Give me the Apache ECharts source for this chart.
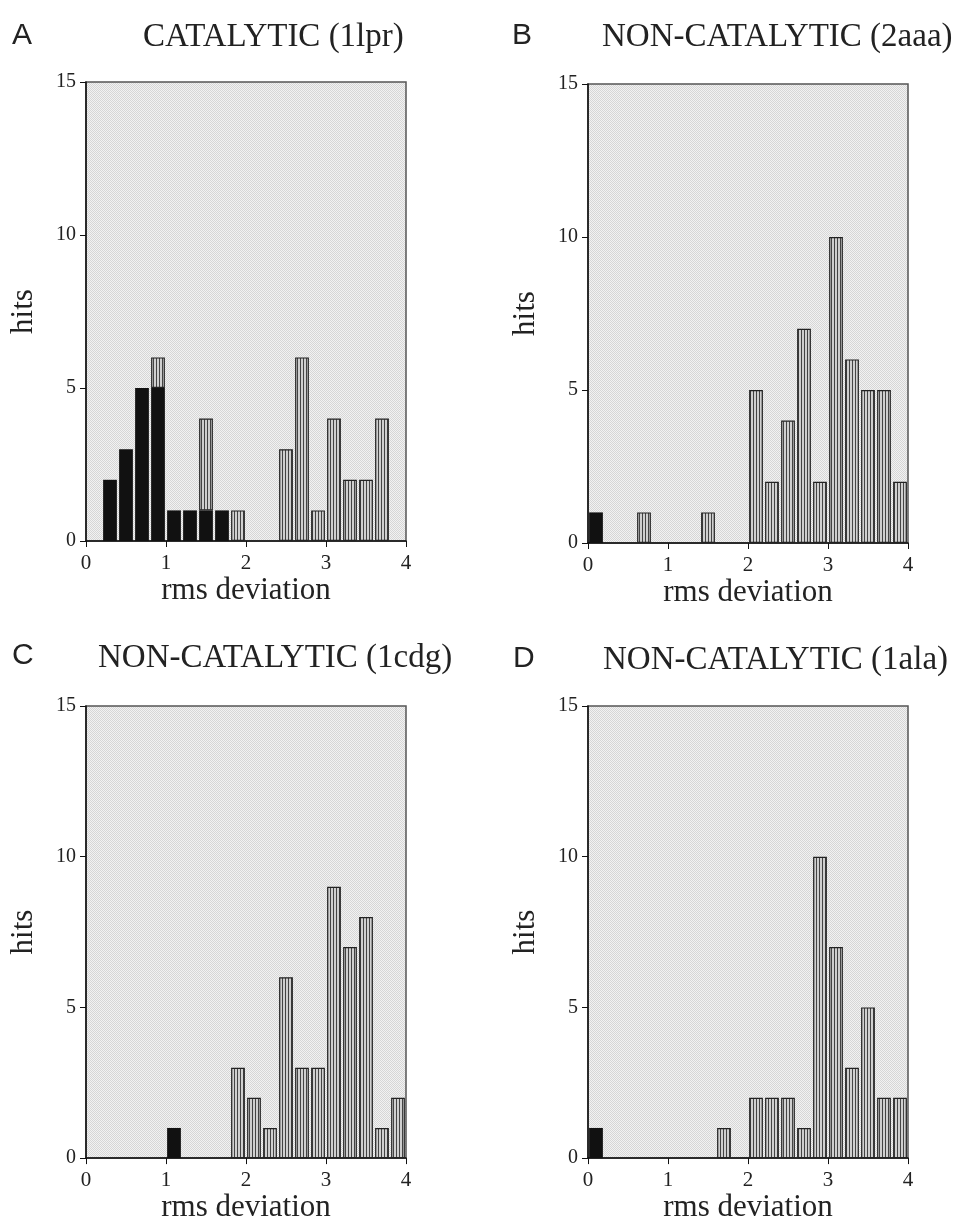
<!DOCTYPE html>
<html>
<head>
<meta charset="utf-8">
<script src="https://cdn.jsdelivr.net/npm/echarts@6/dist/echarts.min.js"></script>
<style>
html,body{margin:0;padding:0;background:#fff;}
#chart{width:956px;height:1224px;}
</style>
</head>
<body>
<div id="chart"></div>
<script>
// ---- data ----
var bins = ['0.0-0.2','0.2-0.4','0.4-0.6','0.6-0.8','0.8-1.0','1.0-1.2','1.2-1.4','1.4-1.6','1.6-1.8','1.8-2.0',
            '2.0-2.2','2.2-2.4','2.4-2.6','2.6-2.8','2.8-3.0','3.0-3.2','3.2-3.4','3.4-3.6','3.6-3.8','3.8-4.0'];
var xTicks = [0, 1, 2, 3, 4];
var yTicks = [0, 5, 10, 15];
var panelLetters = ['A', 'B', 'C', 'D'];
var panelTitles = ['CATALYTIC (1lpr)', 'NON-CATALYTIC (2aaa)', 'NON-CATALYTIC (1cdg)', 'NON-CATALYTIC (1ala)'];

var blackA   = [0,2,3,5,5,1,1,1,1,0,0,0,0,0,0,0,0,0,0,0];
var stripedA = [0,0,0,0,1,0,0,3,0,1,0,0,3,6,1,4,2,2,4,0];
var blackB   = [1,0,0,0,0,0,0,0,0,0,0,0,0,0,0,0,0,0,0,0];
var stripedB = [0,0,0,1,0,0,0,1,0,0,5,2,4,7,2,10,6,5,5,2];
var blackC   = [0,0,0,0,0,1,0,0,0,0,0,0,0,0,0,0,0,0,0,0];
var stripedC = [0,0,0,0,0,0,0,0,0,3,2,1,6,3,3,9,7,8,1,2];
var blackD   = [1,0,0,0,0,0,0,0,0,0,0,0,0,0,0,0,0,0,0,0];
var stripedD = [0,0,0,0,0,0,0,0,1,0,2,2,2,1,10,7,3,5,2,2];

var blackData = [blackA, blackB, blackC, blackD];
var stripedData = [stripedA, stripedB, stripedC, stripedD];

// ---- patterns ----
function makeStripe() {
  var c = document.createElement('canvas');
  c.width = 3; c.height = 4;
  var g = c.getContext('2d');
  g.fillStyle = '#cfcfcf'; g.fillRect(0, 0, 3, 4);
  g.fillStyle = '#444444'; g.fillRect(0, 0, 1, 4);
  return c;
}
function makeStipple() {
  var c = document.createElement('canvas');
  c.width = 2; c.height = 2;
  var g = c.getContext('2d');
  g.fillStyle = '#f2f2f2'; g.fillRect(0, 0, 2, 2);
  g.fillStyle = '#d6d6d6'; g.fillRect(0, 0, 1, 1); g.fillRect(1, 1, 1, 1);
  return c;
}
var stripePattern = {image: makeStripe(), repeat: 'repeat'};
var stipplePattern = {image: makeStipple(), repeat: 'repeat'};

var serif = 'Liberation Serif';
var sans = 'Liberation Sans';

var grids = [
  {left: 86,  top: 82,  width: 320, height: 459},
  {left: 588, top: 84,  width: 320, height: 459},
  {left: 86,  top: 706, width: 320, height: 460},
  {left: 588, top: 706, width: 320, height: 461}
];
var letterPos = [[12, 37], [512, 37], [12, 657], [513, 660]];
var titlePos = [[143, 38], [602, 38], [98, 659], [603, 661]];

var option = {
  animation: false,
  backgroundColor: '#ffffff',
  grid: grids.map(function (g) {
    return {left: g.left, top: g.top, width: g.width, height: g.height,
            show: true, backgroundColor: stipplePattern, borderColor: '#555', borderWidth: 1.5, containLabel: false};
  }),
  xAxis: [],
  yAxis: [],
  series: [],
  graphic: []
};

for (var i = 0; i < 4; i++) {
  // hidden category axis for bins
  option.xAxis.push({
    type: 'category', gridIndex: i, data: bins, show: false, boundaryGap: true
  });
  // visible value axis for labels
  option.xAxis.push({
    type: 'value', gridIndex: i, min: xTicks[0], max: xTicks[xTicks.length - 1], interval: 1,
    position: 'bottom',
    axisLine: {show: true, onZero: false, lineStyle: {color: '#111', width: 1.5}},
    axisTick: {show: true, inside: false, length: 6, lineStyle: {color: '#111', width: 1}},
    axisLabel: {show: true, margin: 12, fontFamily: serif, fontSize: 21, color: '#222'},
    splitLine: {show: false},
    name: 'rms deviation', nameLocation: 'middle', nameGap: 27,
    nameTextStyle: {fontFamily: serif, fontSize: 31, color: '#222', verticalAlign: 'top'}
  });
  option.yAxis.push({
    type: 'value', gridIndex: i, min: yTicks[0], max: yTicks[yTicks.length - 1], interval: 5,
    axisLine: {show: true, lineStyle: {color: '#111', width: 1.5}},
    axisTick: {show: true, inside: false, length: 6, lineStyle: {color: '#111', width: 1}},
    axisLabel: {show: true, margin: 10, fontFamily: serif, fontSize: 20, color: '#222'},
    splitLine: {show: false},
    name: 'hits', nameLocation: 'middle', nameGap: 47, nameRotate: 90,
    nameTextStyle: {fontFamily: serif, fontSize: 31, color: '#222'}
  });
  option.series.push({
    type: 'bar', xAxisIndex: 2 * i, yAxisIndex: i, stack: 'p' + i,
    barCategoryGap: '14%',
    data: blackData[i].map(function (v) { return v === 0 ? null : v; }),
    itemStyle: {color: '#111', borderWidth: 0}
  });
  option.series.push({
    type: 'bar', xAxisIndex: 2 * i, yAxisIndex: i, stack: 'p' + i,
    barCategoryGap: '14%',
    data: stripedData[i].map(function (v) { return v === 0 ? null : v; }),
    itemStyle: {color: stripePattern, borderColor: '#222', borderWidth: 1.2}
  });
  option.graphic.push({
    type: 'text', left: letterPos[i][0], top: letterPos[i][1] - 16,
    style: {text: panelLetters[i], fontFamily: sans, fontSize: 30, fill: '#222'}
  });
  option.graphic.push({
    type: 'text', left: titlePos[i][0], top: titlePos[i][1] - 17,
    style: {text: panelTitles[i], fontFamily: serif, fontSize: 33, fill: '#222'}
  });
}

var chart = echarts.init(document.getElementById('chart'), null, {renderer: 'canvas'});
chart.setOption(option);
</script>
</body>
</html>
